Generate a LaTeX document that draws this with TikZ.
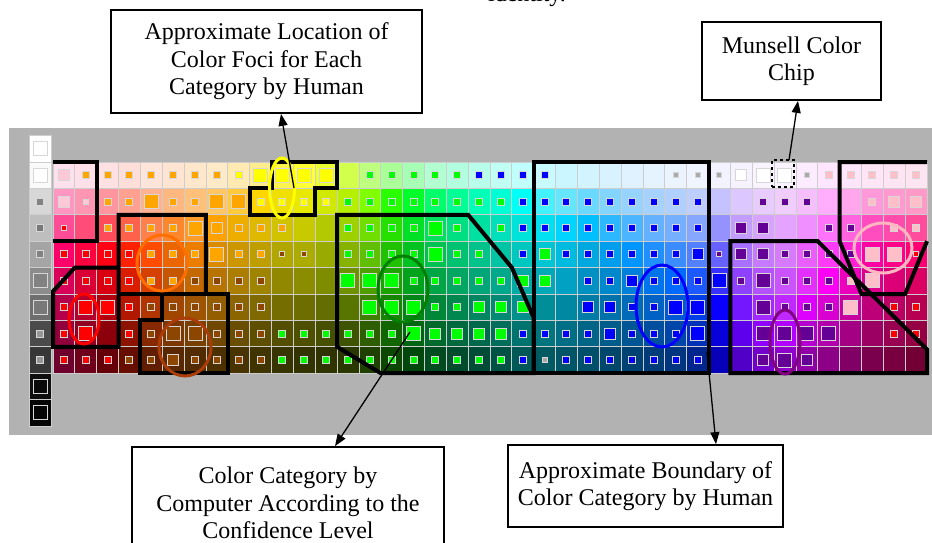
\PassOptionsToPackage{rgb}{xcolor}
\documentclass[tikz,border=0pt]{standalone}
\usepackage{fontspec}
\setmainfont{Liberation Serif}
\usetikzlibrary{arrows.meta,calc}

\definecolor{bggray}{RGB}{178,178,178}
\definecolor{cellline}{RGB}{205,205,205}
\definecolor{sqline}{RGB}{215,215,215}
\definecolor{sqo}{RGB}{255,165,0}
\definecolor{sqy}{RGB}{255,255,0}
\definecolor{sqg}{RGB}{0,255,0}
\definecolor{sqb}{RGB}{0,0,255}
\definecolor{sqp}{RGB}{100,0,150}
\definecolor{sqk}{RGB}{255,190,200}
\definecolor{sqq}{RGB}{255,200,215}
\definecolor{sqr}{RGB}{255,0,0}
\definecolor{sqn}{RGB}{140,70,0}
\definecolor{sqa}{RGB}{170,170,170}
\definecolor{sqw}{RGB}{255,255,255}
\definecolor{elY}{RGB}{255,255,0}
\definecolor{elO}{RGB}{255,110,0}
\definecolor{elR}{RGB}{255,0,0}
\definecolor{elN}{RGB}{170,60,10}
\definecolor{elG}{RGB}{0,128,0}
\definecolor{elB}{RGB}{0,0,255}
\definecolor{elP}{RGB}{128,0,128}
\definecolor{elK}{RGB}{255,182,193}

\def\sqsetsize#1{\def\sqs{7}\if#1t\def\sqs{5}\fi\if#1m\def\sqs{11}\fi\if#1l\def\sqs{14}\fi}
\def\sqparse#1#2\relax#3#4{%
  \ifx-#1\else
    \sqsetsize{#1}%
    \filldraw[draw=sqline, line width=1pt, fill=sq#2]
      ({gx(#3+0.5)-\sqs/2},{gy(#4+0.5)-\sqs/2}) rectangle ++(\sqs,\sqs);
  \fi}

\tikzset{
  bound/.style={line width=4pt, black},
  focus/.style={line width=3pt},
  lbl/.style={draw, line width=1.8pt, fill=white, align=center, inner sep=0pt,
    font=\fontsize{24}{27.5}\selectfont},
  arr/.style={line width=1.3pt, -{Triangle[length=12pt,width=9pt]}},
}

\begin{document}
\begin{tikzpicture}[x=1pt,y=-1pt,
  declare function={gx(\mycol)=53+21.85*\mycol; gy(\myrow)=162+26.4*\myrow;}]
\useasboundingbox (0,0) rectangle (932,543);

% caption line above, cut by the top edge as in the reference
\node[anchor=base, font=\fontsize{24}{27.5}\selectfont, inner sep=0pt] (idt) at (527,2) {identity.};

% gray background
\fill[bggray] (9,128) rectangle (932,435);

% neutral column
\foreach \rw/\lv/\sz/\sl in {-1/255/14/255, 0/250/14/255, 1/215/7/130, 2/190/7/120,
   3/165/7/130, 4/140/14/130, 5/110/14/120, 6/75/7/150, 7/55/7/150, 8/15/14/10, 9/5/14/5}{
  \definecolor{nc}{RGB}{\lv,\lv,\lv}
  \definecolor{ns}{RGB}{\sl,\sl,\sl}
  \filldraw[fill=nc, draw=cellline, line width=0.8pt] (29,{gy(\rw)}) rectangle (51,{gy(\rw+1)});
  \filldraw[fill=ns, draw=sqline, line width=1pt] ({40-\sz/2},{gy(\rw+0.5)-\sz/2}) rectangle ++(\sz,\sz);
}

% chromatic cells
\foreach \hu/\pk/\tz/\sd [count=\ci from 0] in {
  335/3/12/43, 345/3/12/43, 355/3/12/40, 8/3/15/40, 18/3/15/38,
  26/2.5/18/35, 32/2.5/20/32, 38/2/22/30, 44/1.5/30/28, 50/1/45/25,
  56/0.5/70/22, 60/0.3/80/20, 66/0.3/80/20, 75/0.5/70/22, 90/1/50/25,
  110/1/40/28, 130/1/35/28, 145/1/30/30, 155/1/30/30, 163/1/28/30,
  170/1/25/32, 178/1/25/35, 184/1.5/22/38, 190/2/20/40, 195/2/18/42,
  200/2.5/15/42, 205/3/12/45, 210/3.5/10/47, 215/4/8/50, 224/4.5/6/55,
  242/5/5/72, 264/5.5/5/78, 274/6/5/80, 282/6/5/80, 292/5/8/65,
  302/4/10/55, 312/3.5/10/50, 322/3/10/48, 328/3/10/47, 333/3/10/45}{
  \definecolor{tmphue}{Hsb}{\hu,1,1}
  \colorlet{basehue}[rgb]{tmphue}
  \foreach \rw in {0,...,7}{
    \ifdim\rw pt>\pk pt
      \pgfmathtruncatemacro\pct{100-(\rw-\pk)/(7-\pk)*(100-\sd)}
      \colorlet{cellc}[rgb]{basehue!\pct!black}
    \else
      \pgfmathtruncatemacro\pct{\tz+(100-\tz)*\rw/\pk}
      \colorlet{cellc}[rgb]{basehue!\pct!white}
    \fi
    \filldraw[fill=cellc, draw=cellline, line width=0.8pt]
      ({gx(\ci)},{gy(\rw)}) rectangle ({gx(\ci+1)},{gy(\rw+1)});
  }
}

% confidence squares
\foreach \rw/\lst in {
 0/{mq,so,so,so,so,so,so,so,sy,ly,ly,ly,ly,--,sg,sg,sg,sg,sg,sb,sb,sb,sb,--,--,--,--,--,ta,ta,ta,mw,lw,lw,ta,sk,sk,sk,sk,sk},
 1/{mq,tq,so,so,lo,so,so,lo,lo,sy,sy,sy,sy,sg,sg,sg,sg,sg,sg,sg,sg,sb,sb,sb,sb,sb,sb,sb,sb,sb,--,--,sp,sp,sp,--,--,sk,mk,mk},
 2/{tr,--,so,so,so,so,lo,mo,so,so,so,--,--,sg,sg,sg,sg,lg,sg,--,sg,sb,sb,sb,sb,sb,sb,sb,sb,sb,--,mp,mp,--,--,sp,sp,--,sk,sk},
 3/{sr,sr,sr,sr,so,so,so,lo,so,so,tn,tn,--,sg,sg,sg,sg,lg,sg,sg,--,sb,mg,sb,sb,sb,sb,sb,sb,mb,tp,mp,mp,sp,sp,sp,sp,lk,lk,tr},
 4/{sr,sr,sr,sr,so,so,sn,sn,sn,sn,--,--,--,lg,lg,lg,sg,sg,sg,sg,sg,mg,mg,--,sb,sb,mb,sb,sb,sb,lb,sp,lp,sp,sp,sp,sk,lk,--,--},
 5/{sr,lr,lr,sr,sn,sn,sn,sn,sn,sn,--,--,--,--,lg,lg,lg,sg,sg,mg,mg,mg,--,--,mb,mb,sb,sb,lb,lb,--,--,lp,sp,sp,sp,lk,--,sr,sr},
 6/{sr,lr,--,sr,sn,ln,ln,sn,sn,sn,sg,sg,sg,sg,sg,sg,lg,mg,mg,mg,mg,sb,sb,sb,sb,mb,sb,sb,sb,lb,--,--,lp,lp,lp,lp,--,--,sr,sr},
 7/{sr,sr,sr,sn,sn,mn,sn,sn,sn,sn,sg,sg,sg,sg,sg,sg,sg,sg,sg,sg,sg,sb,ta,sb,sb,sb,sb,sb,sb,sb,--,--,mp,lp,mp,--,--,--,--,--}}{
  \foreach \tok [count=\ci from 0] in \lst {
    \expandafter\sqparse\tok\relax{\ci}{\rw}
  }
}

% human category boundaries
\draw[bound] ({gx(0)},{gy(0)}) -- ({gx(2)},{gy(0)}) -- ({gx(2)},{gy(3)}) -- ({gx(0)},{gy(3)});
\draw[bound] ({gx(7)},{gy(5)}) -- ({gx(7)},{gy(2)}) -- ({gx(3)},{gy(2)}) -- ({gx(3)},{gy(7)})
  -- ({gx(0)},{gy(7)}) -- ({gx(0)},{gy(4.9)}) -- ({gx(1)},{gy(4)}) -- ({gx(3)},{gy(4)});
\draw[bound] ({gx(3)},{gy(5)}) -- ({gx(8)},{gy(5)}) -- ({gx(8)},{gy(8)}) -- ({gx(4)},{gy(8)})
  -- ({gx(4)},{gy(6)}) -- ({gx(5)},{gy(6)}) -- ({gx(5)},{gy(5)});
\draw[bound] ({gx(10)},{gy(0)}) -- ({gx(13)},{gy(0)}) -- ({gx(13)},{gy(1)}) -- ({gx(12)},{gy(1)})
  -- ({gx(12)},{gy(2)}) -- ({gx(9)},{gy(2)}) -- ({gx(9)},{gy(1)}) -- ({gx(10)},{gy(1)}) -- cycle;
\draw[bound] ({gx(13)},{gy(2)}) -- ({gx(19)},{gy(2)}) -- ({gx(21)},{gy(4)}) -- ({gx(22)},{gy(5.9)})
  -- ({gx(22)},{gy(8)}) -- ({gx(15)},{gy(8)}) -- ({gx(13)},{gy(7)}) -- cycle;
\draw[bound] ({gx(22)},{gy(8)}) -- ({gx(22)},{gy(0)}) -- ({gx(30)},{gy(0)}) -- ({gx(30)},{gy(8)}) -- cycle;
\draw[bound] ({gx(31)},{gy(3)}) -- ({gx(35)},{gy(3)}) -- ({gx(40)},{gy(7.1)}) -- ({gx(40)},{gy(8)})
  -- ({gx(31)},{gy(8)}) -- cycle;
\draw[bound] ({gx(40)},{gy(0)}) -- ({gx(36)},{gy(0)}) -- ({gx(36)},{gy(3)}) -- ({gx(37)},{gy(5)})
  -- ({gx(39)},{gy(5)}) -- ({gx(40)},{gy(3)});

% human foci
\draw[focus, elY] (282,188) ellipse [x radius=12.5pt, y radius=30pt];
\draw[focus, elO] (162,263) ellipse [x radius=25pt, y radius=28pt];
\draw[focus, elR] (84,319) ellipse [x radius=15pt, y radius=25pt];
\draw[focus, elN] (185,347) ellipse [x radius=26pt, y radius=29pt];
\draw[focus, elG] (403,289) ellipse [x radius=25pt, y radius=33pt];
\draw[focus, elB] (662,306) ellipse [x radius=26pt, y radius=41pt];
\draw[focus, elP] (785,342) ellipse [x radius=15pt, y radius=32pt];
\draw[focus, elK] (883,248) ellipse [x radius=29pt, y radius=25pt];

% Munsell chip marker
\node[draw, dashed, line width=1.3pt, minimum width=22pt, minimum height=27pt, inner sep=0pt] (chip) at (783,173.5) {};

% label boxes
\node[lbl, minimum width=311pt, minimum height=103pt] (b1) at (266.5,61.5)
  {Approximate Location of\\Color Foci for Each\\Category by Human};
\node[lbl, minimum width=179pt, minimum height=78pt] (b2) at (791.5,61)
  {Munsell Color\\Chip};
\node[lbl, minimum width=312pt, minimum height=112pt] (b3) at (288,503)
  {Color Category by\\Computer According to the\\Confidence Level};
\node[lbl, minimum width=275pt, minimum height=82pt] (b4) at (645.5,486)
  {Approximate Boundary of\\Color Category by Human};

% connectors
\coordinate (yfoc) at (294,188);
\coordinate (chiptop) at (789,160);
\coordinate (gsq) at (410,332);
\coordinate (bline) at (707,352);
\draw[arr] (yfoc) -- ($(b1.south)+(14.5,0)$);
\draw[arr] (chiptop) -- ($(b2.south)+(6.5,0)$);
\draw[arr] (gsq) -- ($(b3.north)+(47,0)$);
\draw[arr] (bline) -- ($(b4.north)+(70.5,0)$);
\end{tikzpicture}
\end{document}
